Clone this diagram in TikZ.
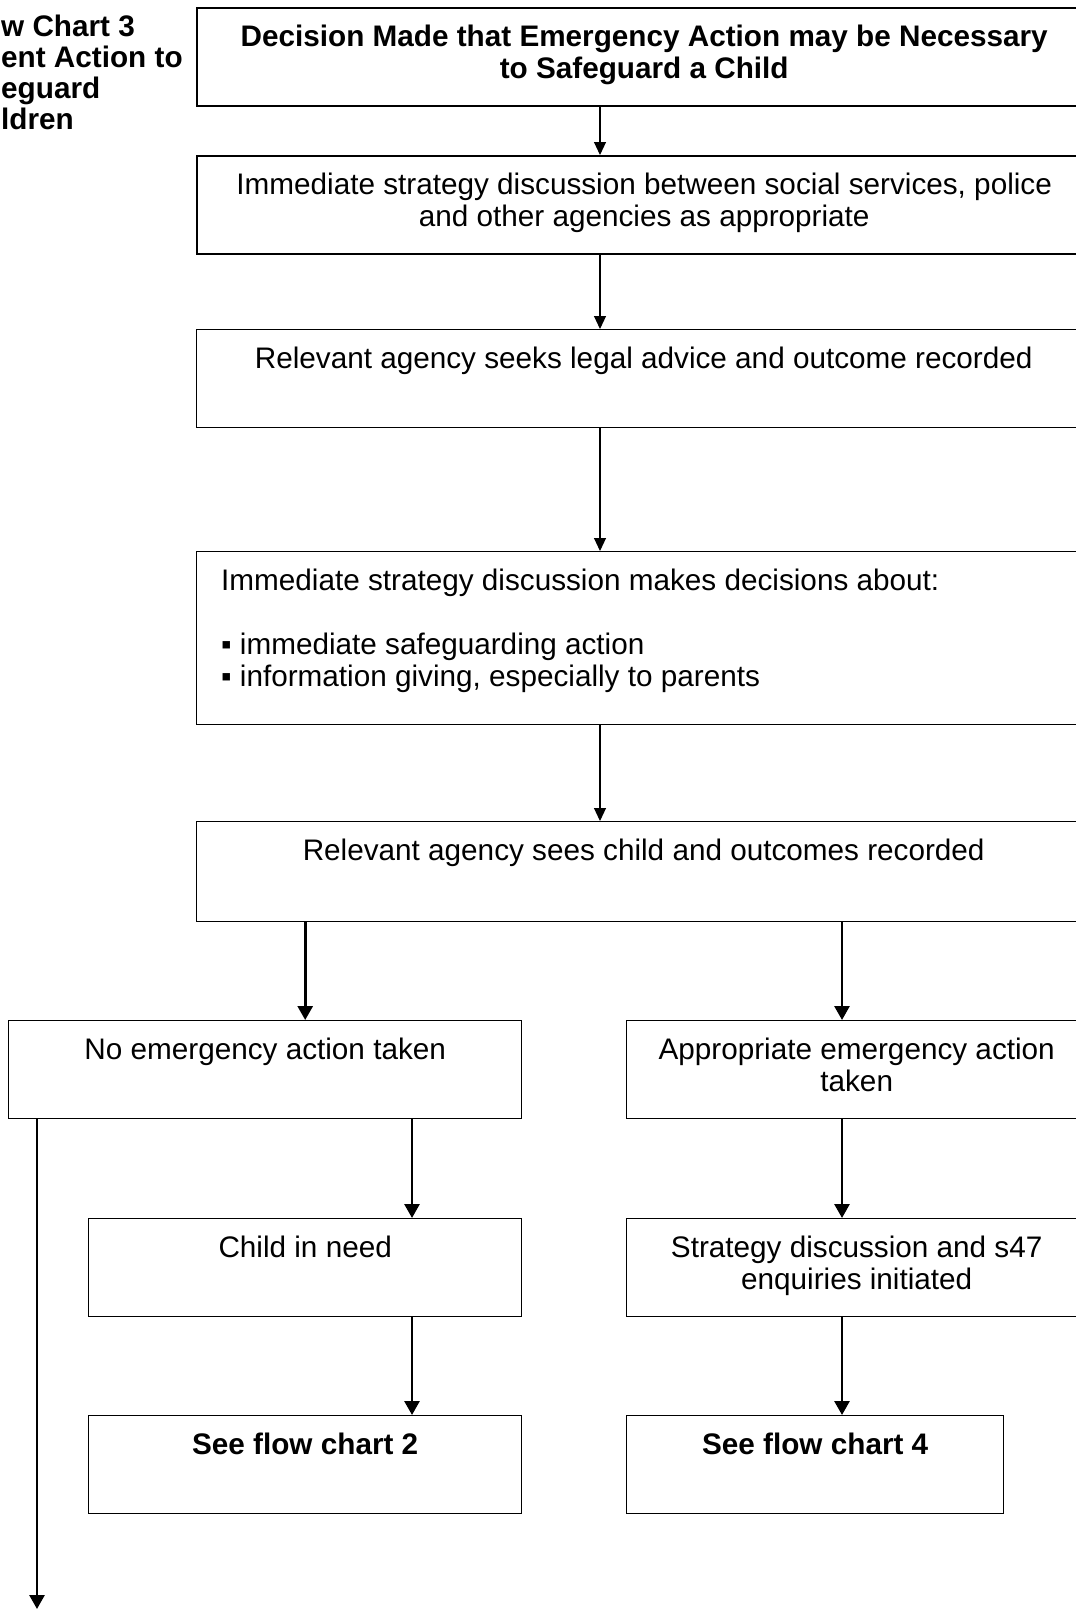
\documentclass[tikz,border=0pt]{standalone}
\usepackage{fontspec}
\setmainfont{Liberation Sans}
\usetikzlibrary{arrows.meta,positioning}

\tikzset{
  box/.style={draw, line width=1.4pt, anchor=north west, inner sep=0pt, minimum height=98pt},
  heavybox/.style={box, line width=2.4pt},
  boxtext/.style={align=center, inner sep=0pt, font=\fontsize{29.7}{32}\selectfont},
  titletext/.style={anchor=base west, inner sep=0pt, font=\fontsize{29.7}{32}\selectfont\bfseries},
  flow/.style={-{Triangle[width=12pt,length=13pt]}, line width=1.1pt},
  bigflow/.style={-{Triangle[width=15pt,length=14pt]}, line width=2.8pt},
}

\begin{document}
\begin{tikzpicture}[x=1pt,y=-1pt]
\useasboundingbox (0,0) rectangle (1076,1610);
\clip (0,0) rectangle (1076,1610);

% title, cut at the left edge
\foreach \txt/\xx [count=\i] in {w Chart 3/1, ent Action to/1, eguard/1, ldren/1}
  \node[titletext] (title\i) at (\xx,5+31*\i) {\txt};

% main column
\node[heavybox, minimum width=894pt] (b1) at (196,7) {};
\node[heavybox, minimum width=894pt] (b2) at (196,155) {};
\node[box, minimum width=894pt] (b3) at (196,329) {};
\node[box, minimum width=894pt, minimum height=173pt] (b4) at (196,551) {};
\node[box, minimum width=894pt, minimum height=100pt] (b5) at (196,821) {};

\node[boxtext, font=\fontsize{29.7}{32}\selectfont\bfseries, below=18pt of b1.north] (t1)
  {Decision Made that Emergency Action may be Necessary\\to Safeguard a Child};
\node[boxtext, below=18pt of b2.north] (t2)
  {Immediate strategy discussion between social services, police\\and other agencies as appropriate};
\node[boxtext, below=18pt of b3.north] (t3)
  {Relevant agency seeks legal advice and outcome recorded};
\node[boxtext, align=left, below right=18pt and 25pt of b4.north west] (t4)
  {Immediate strategy discussion makes decisions about:\\[32pt]
   ▪ immediate safeguarding action\\
   ▪ information giving, especially to parents};
\node[boxtext, below=18pt of b5.north] (t5)
  {Relevant agency sees child and outcomes recorded};

% two branches
\node[box, minimum width=513pt] (noact) at (8,1020) {};
\node[box, minimum width=460pt] (act) at (626,1020) {};
\node[box, minimum width=433pt] (cin) at (88,1218) {};
\node[box, minimum width=460pt] (strat) at (626,1218) {};
\node[box, minimum width=433pt] (fc2) at (88,1415) {};
\node[box, minimum width=377pt] (fc4) at (626,1415) {};

\node[boxtext, below=18pt of noact.north] (t6) {No emergency action taken};
\node[boxtext, below=18pt of act.north] (t7) {Appropriate emergency action\\taken};
\node[boxtext, below=18pt of cin.north] (t8) {Child in need};
\node[boxtext, below=18pt of strat.north] (t9) {Strategy discussion and s47\\enquiries initiated};
\node[boxtext, font=\fontsize{29.7}{32}\selectfont\bfseries, below=18pt of fc2.north] (t10) {See flow chart 2};
\node[boxtext, font=\fontsize{29.7}{32}\selectfont\bfseries, below=18pt of fc4.north] (t11) {See flow chart 4};

% arrows
\coordinate (mx) at (600,0);
\coordinate (rx) at (842,0);
\coordinate (nx) at (412,0);
\coordinate (ex) at (37,0);
\coordinate (out) at (37,1609);

\foreach \a/\b in {b1/b2,b2/b3,b3/b4,b4/b5}
  \draw[flow] (\a.south -| mx) -- (\b.north -| mx);

\draw[bigflow] (b5.south -| cin.north) -- (noact.north -| cin.north);
\draw[bigflow] (b5.south -| rx) -- (act.north -| rx);
\draw[bigflow] (noact.south -| nx) -- (cin.north -| nx);
\draw[bigflow] (cin.south -| nx) -- (fc2.north -| nx);
\draw[bigflow] (act.south -| rx) -- (strat.north -| rx);
\draw[bigflow] (strat.south -| rx) -- (fc4.north -| rx);
\draw[bigflow] (noact.south -| ex) -- (out);
\end{tikzpicture}
\end{document}
